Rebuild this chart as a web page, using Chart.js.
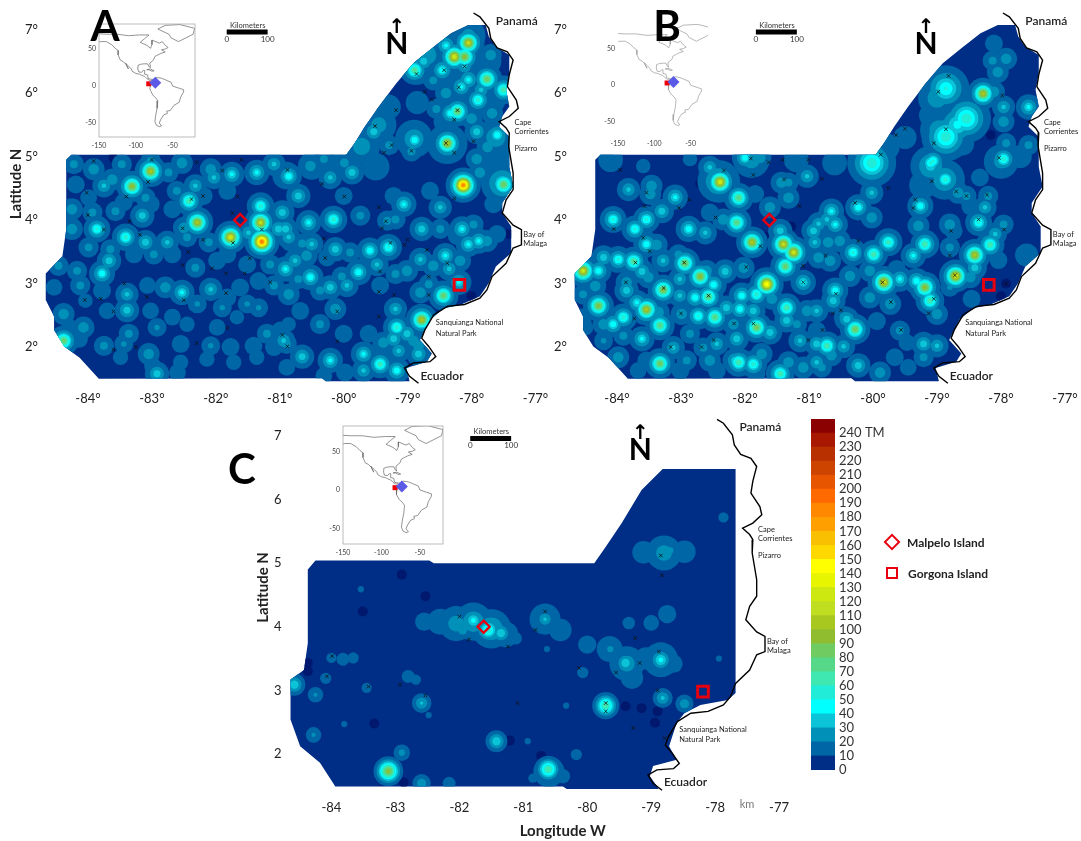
<!DOCTYPE html>
<html>
<head>
<meta charset="utf-8">
<title>Catch maps</title>
<script src="https://cdn.jsdelivr.net/npm/chart.js@4"></script>
<style>
html, body { margin: 0; padding: 0; background: #fff; width: 1081px; height: 841px; overflow: hidden; }
canvas { position: absolute; filter: blur(0.55px); }
.letter { position: absolute; font: bold 42px Lato, sans-serif; color: #000; transform: translate(-50%, -50%); filter: blur(0.5px); }
.legendText { position: absolute; font: bold 12px Lato, sans-serif; color: #222; transform: translateY(-50%); filter: blur(0.4px); }
.diamond { position: absolute; width: 8px; height: 8px; border: 2px solid #e8000f; transform: translate(-50%, -50%) rotate(45deg); }
.square { position: absolute; width: 8px; height: 8px; border: 2px solid #e8000f; transform: translate(-50%, -50%); }
</style>
</head>
<body>
<canvas id="mapA"></canvas>
<canvas id="mapB"></canvas>
<canvas id="mapC"></canvas>
<canvas id="insetA"></canvas>
<canvas id="insetB"></canvas>
<canvas id="insetC"></canvas>
<canvas id="colorbar"></canvas>
<div class="letter" style="left:105px;top:25px">A</div>
<div class="letter" style="left:667px;top:25px">B</div>
<div class="letter" style="left:242px;top:468px">C</div>
<div class="diamond" style="left:892px;top:542px"></div>
<div class="legendText" style="left:907px;top:542px">Malpelo Island</div>
<div class="square" style="left:892px;top:573px"></div>
<div class="legendText" style="left:908px;top:573px">Gorgona Island</div>
<script>
const lonTicks = [-84, -83, -82, -81, -80, -79, -78, -77];
const latTicks = [2, 3, 4, 5, 6, 7];
const insetLonTicks = [-150, -100, -50];
const insetLatTicks = [-50, 0, 50];
const colorbarTicks = [0, 10, 20, 30, 40, 50, 60, 70, 80, 90, 100, 110, 120, 130, 140, 150, 160, 170, 180, 190, 200, 210, 220, 230, 240];
const colorbarSteps = [10, 10, 10, 10, 10, 10, 10, 10, 10, 10, 10, 10, 10, 10, 10, 10, 10, 10, 10, 10, 10, 10, 10, 10, 10];
const contourLevels = [10, 20, 30, 40, 50, 60, 70, 80, 90, 100, 110, 120, 130, 140, 150, 160, 170, 180, 190, 200, 210, 220, 230, 240];
const levelColors = ['#0066a5', '#0090b8', '#0cc4d8', '#00ffff', '#20ecd8', '#3fe8b0', '#55d888', '#70cc60', '#90bc30', '#a8c820', '#bfde20', '#cce810', '#e8f500', '#ffff00', '#ffd800', '#f8c000', '#ff9f00', '#ff8800', '#ff6a00', '#e85500', '#cc4400', '#b83000', '#a81800', '#8b0000'];
const baseColor = '#002d85';
const darkColor = '#00186e';

const outlineAB = [[-84.26,5.03],[-79.96,5.03],[-79.83,5.21],[-79.67,5.47],[-79.45,5.79],[-79.18,6.15],[-78.91,6.47],[-78.59,6.73],[-78.32,6.94],[-78.05,7.07],[-77.78,7.07],[-77.73,6.89],[-77.62,6.73],[-77.41,6.6],[-77.41,6.31],[-77.46,6.05],[-77.41,5.79],[-77.52,5.63],[-77.57,5.47],[-77.41,5.31],[-77.41,4.84],[-77.35,4.53],[-77.52,4.27],[-77.52,4.11],[-77.38,3.9],[-77.38,3.48],[-77.62,3.27],[-77.73,3.01],[-77.87,2.8],[-78.16,2.67],[-78.43,2.61],[-78.65,2.43],[-78.81,2.11],[-78.62,1.9],[-78.7,1.77],[-79.02,1.67],[-78.97,1.46],[-80.28,1.46],[-80.34,1.51],[-83.83,1.5],[-84.13,1.83],[-84.37,2.01],[-84.53,2.27],[-84.53,2.48],[-84.66,2.74],[-84.66,3.16],[-84.4,3.43],[-84.34,3.85],[-84.34,4.95],[-84.26,5.03]];
const outlineC = [[-84.37,4.9],[-84.25,5.04],[-82.47,5.04],[-82.4,5],[-79.89,5],[-79.71,5.26],[-79.46,5.63],[-79.15,6.15],[-78.82,6.48],[-77.68,6.48],[-77.68,2.96],[-77.8,2.85],[-78.23,2.77],[-78.48,2.64],[-78.6,2.49],[-78.72,2.12],[-78.6,1.91],[-78.97,1.81],[-79.02,1.65],[-78.88,1.45],[-80.32,1.45],[-80.38,1.49],[-83.94,1.49],[-84.18,1.86],[-84.49,2.12],[-84.64,2.54],[-84.64,3.17],[-84.43,3.32],[-84.37,3.74],[-84.37,4.9]];
const coastline = [[-77.97,7.26],[-77.87,7.2],[-77.73,7.02],[-77.7,6.86],[-77.6,6.71],[-77.44,6.65],[-77.35,6.52],[-77.41,6.29],[-77.44,6.1],[-77.3,5.89],[-77.27,5.76],[-77.41,5.63],[-77.57,5.55],[-77.46,5.45],[-77.41,5.37],[-77.42,5.16],[-77.35,4.74],[-77.35,4.48],[-77.46,4.32],[-77.52,4.11],[-77.35,3.92],[-77.22,3.85],[-77.22,3.61],[-77.35,3.56],[-77.46,3.32],[-77.68,3.11],[-77.76,2.9],[-77.87,2.77],[-78.11,2.67],[-78.38,2.64],[-78.59,2.51],[-78.73,2.27],[-78.78,2.14],[-78.67,2.01],[-78.56,1.85],[-78.65,1.77],[-78.91,1.75],[-79.05,1.67],[-78.97,1.54],[-78.83,1.43]];

// [lon, lat, catch in TM]
const spotsA = [[-78.05,6.79,120],[-78.27,6.57,130],[-78.11,6.57,100],[-78.46,6.36,50],[-78.11,6.42,35],[-77.76,6.22,90],[-78.05,6.21,45],[-78.16,6.1,45],[-77.9,5.89,60],[-77.5,6.05,70],[-78.89,6.36,75],[-78.75,6.5,40],[-78.4,6.75,45],[-78.22,5.71,85],[-78.33,5.68,50],[-79.53,5.39,40],[-78.89,5.26,50],[-78.38,5.21,110],[-77.92,5.39,40],[-77.6,5.34,50],[-77.68,5.68,30],[-79.29,5.18,25],[-78.94,5.08,25],[-77.85,6.05,35],[-78.4,6,30],[-78.6,6.2,25],[-77.7,6.6,30],[-78.55,5.75,25],[-78,5.6,30],[-77.75,5.15,30],
[-84.22,4.88,25],[-83.91,4.8,30],[-83.47,4.88,25],[-83.02,4.93,25],[-82.53,4.9,30],[-82.08,4.8,30],[-81.75,4.72,45],[-81.36,4.75,45],[-81.09,4.88,35],[-84.19,4.56,20],[-83.75,4.54,35],[-83.62,4.64,30],[-83.31,4.53,100],[-83.02,4.77,110],[-82.74,4.75,25],[-82.32,4.54,35],[-82.61,4.46,25],[-83.1,4.35,25],[-83.99,4.35,18],[-83.44,4.28,20],[-83.02,4.25,20],[-82.68,4.17,20],[-84.25,4.17,30],[-83.93,4.12,25],[-83.57,4.14,25],[-83.15,4.07,40],[-82.42,4.3,70],[-82.19,4.38,20],[-81.82,4.46,20],[-82.03,4.67,35],[-81.3,4.22,60],[-80.96,4.12,40],[-81.3,3.96,120],[-81.02,3.86,40],[-80.86,3.73,35],[-81.49,3.8,35],[-82.29,3.96,110],[-82.5,3.88,30],[-81.77,3.73,130],[-81.28,3.66,195],[-83.86,3.86,55],[-83.41,3.73,60],[-83.1,3.65,40],[-82.76,3.65,35],[-82.45,3.73,25],[-82.11,3.65,25],[-84.25,3.86,30],[-83.65,3.54,25],[-83.99,3.57,25],[-83.28,3.46,20],[-83.67,3.36,40],[-82.97,3.46,25],[-82.68,3.46,20],[-82.32,3.25,25],[-81.98,3.36,20],[-81.82,3.46,20],[-81.51,3.3,20],[-81.15,3.3,25],[-80.91,3.23,35],[-83.78,3.16,50],[-84.17,3.2,25],[-84.46,3.28,25],[-84.53,2.94,18],[-84.12,2.97,25],[-83.78,2.89,20],[-83.39,2.83,35],[-82.79,2.94,30],[-83.07,2.97,18],[-82.53,2.86,45],[-82.08,2.91,35],[-81.82,2.78,20],[-81.62,2.94,20],[-81.33,3.04,20],[-81.09,2.97,25],[-80.89,2.83,20],[-84.38,2.52,30],[-84.04,2.73,15],[-83.7,2.57,18],[-83.39,2.58,40],[-83.02,2.57,18],[-82.68,2.47,18],[-82.29,2.68,22],[-81.9,2.62,22],[-81.51,2.68,22],[-81.33,2.62,22],[-84.07,2.31,30],[-84.3,2.34,15],[-83.36,2.21,25],[-82.92,2.31,22],[-82.45,2.36,16],[-81.98,2.31,18],[-81.67,2.47,15],[-81.2,2.21,25],[-80.99,2.26,20],[-84.38,2.1,85],[-84.14,2.13,20],[-83.75,2.02,25],[-83.44,2.05,22],[-83.05,1.89,30],[-82.55,2.05,20],[-82.08,2.02,22],[-81.77,2,20],[-81.41,2.02,20],[-80.94,2.1,35],[-81.09,2,20],[-82.92,1.58,40],[-83.49,1.84,16],[-82.99,1.71,18],[-82.6,1.6,18],[-82.14,1.81,16],[-81.72,1.76,16],[-81.36,1.84,16],[-82.55,1.76,16],
[-80.86,4.69,50],[-80.52,4.85,30],[-80.21,4.67,35],[-79.87,4.75,40],[-80.31,4.96,25],[-80.71,4.38,40],[-80.97,4.12,25],[-80.16,4.01,60],[-80.55,3.96,45],[-80.91,3.86,40],[-79.74,4.07,25],[-80,4.38,20],[-79.06,4.25,45],[-79.32,3.99,25],[-79.19,4.01,25],[-78.78,3.86,40],[-79.22,4.38,20],[-78.65,4.46,20],[-78.49,4.2,35],[-78.13,4.55,190],[-77.5,4.56,90],[-77.87,4.75,30],[-77.92,4.96,30],[-77.66,4.25,20],[-78.15,3.86,45],[-78.49,3.86,25],[-77.89,3.67,45],[-78.05,3.62,45],[-77.76,3.67,30],[-77.97,3.93,25],[-77.6,3.78,20],[-78.23,3.75,20],[-78.41,3.44,45],[-78.6,3.28,30],[-78.18,3.36,30],[-78.35,3.23,35],[-78.2,3.02,45],[-78.67,2.99,25],[-78.44,2.81,85],[-78.8,2.86,30],[-79.01,3.2,30],[-78.8,3.38,35],[-79.3,3.57,55],[-79.59,3.52,50],[-79.9,3.49,25],[-80.13,3.54,40],[-80.5,3.62,35],[-80.65,3.63,25],[-80.84,3.65,20],[-80.58,3.44,30],[-80.76,3.36,35],[-80.91,3.23,45],[-80.26,3.41,20],[-79.77,3.18,50],[-79.48,3.3,35],[-80.03,3.11,25],[-80.52,3.1,50],[-80.71,3.07,25],[-79.95,2.97,35],[-80.21,2.94,40],[-80.86,2.83,30],[-80.37,2.89,25],[-79.43,2.97,20],[-79.19,3.15,25],[-79.19,2.6,35],[-79.17,2.31,60],[-78.78,2.43,110],[-79.01,2.21,40],[-78.91,2.1,30],[-79.22,2.13,40],[-80.13,2.6,30],[-80.37,2.36,25],[-80.68,2.57,20],[-80.86,2.36,15],[-80.89,2.05,25],[-80,2.21,20],[-79.61,2.21,20],[-79.38,2.07,30],[-79.14,1.94,35],[-79.69,1.89,45],[-79.43,1.73,65],[-79.17,1.63,50],[-80.21,1.79,45],[-80.65,1.85,40],[-79.69,1.63,35],[-79.98,1.6,20],[-80.31,1.55,18],[-78.83,1.89,40],[-78.83,2.02,30],[-80.89,1.68,18]];
const broadA = [[-78.9,5.28,30],[-78.38,5.2,35],[-77.52,4.58,40],[-77.62,5.3,30],[-79.72,5.16,28],[-79.45,5.5,26],[-79.99,4.9,22],[-79.5,4.84,18],[-78.38,6.15,15],[-77.75,6.5,18],[-77.7,5.9,20],[-78.85,5.85,15],[-78.3,6.5,22],[-78.7,6.6,30],[-78.85,6.4,25],[-78.05,6.9,25],[-77.6,4.95,18],[-79.3,5.78,16],[-78.4,5.55,16],[-80.5,4.85,18],[-80.9,4.7,18]];
const darkA = [[-78.22,5.87],[-78.39,5.5],[-77.42,3.78],[-78,2.8],[-83.6,4.98],[-84.55,2.9]];
const stationsA = [[-78.86,6.3],[-78.73,6.02],[-78.62,5.9],[-78.43,6.36],[-78.11,6.42],[-78.2,6.09],[-78.22,5.73],[-78.27,5.58],[-79.18,5.73],[-79.51,5.48],[-79.25,5.18],[-79.37,5.06],[-78.94,5.09],[-78.4,5.21],[-78.27,5.06],[-77.97,5.24],[-78.27,4.34],[-79.99,4.37],[-80.34,4.57],[-80.88,4.79],[-79.45,4.2],[-79.34,3.98],[-79.4,3.87],[-79.27,3.64],[-79,3.69],[-79.05,3.61],[-78.7,3.53],[-78.38,3.32],[-78.67,3.11],[-78.67,2.82],[-79.45,2.87],[-79.43,3.19],[-79.21,2.82],[-79.45,2.48],[-80.1,2.56],[-80.1,2.09],[-80.96,2.19],[-80.88,2.01],[-81.82,2.3],[-82.3,2.06],[-83.6,1.96],[-83.25,2],[-83.6,2.56],[-84.05,2.74],[-83.08,2.79],[-83.8,2.76],[-83.43,3],[-82.5,2.74],[-81.84,2.85],[-81.15,3.02],[-81.55,3.16],[-81.84,3.16],[-82.06,3.24],[-81.47,3.4],[-82.52,3.29],[-82.43,3.5],[-81.73,3.64],[-82.2,3.69],[-83.19,3.77],[-83.35,3.98],[-83.75,3.85],[-84,4.08],[-82.52,3.87],[-82.38,4.33],[-82.2,4.38],[-81.66,4.37],[-81.74,4.11],[-81.6,4.95],[-82.3,4.91],[-83,4.95],[-83.91,4.93],[-84.02,4.43],[-83.4,4.37],[-83.06,4.6],[-81.9,4.78],[-81.28,3.85],[-80.31,3.71],[-80.29,3.4]];

const spotsB = [[-78.28,5.99,110],[-78.11,6.02,30],[-77.57,5.78,45],[-77.92,6.54,30],[-78.13,6.51,25],[-78.11,6.78,20],[-78.05,6.33,30],[-77.96,5.78,35],[-77.96,5.55,30],[-77.57,5.18,25],[-77.92,5.21,25],[-79.1,4.9,55],
[-84.16,4.98,15],[-83.59,4.85,15],[-82.86,4.96,15],[-82.55,4.83,35],[-82,4.98,50],[-81.76,4.98,30],[-82.39,4.6,130],[-83.82,4.48,35],[-83.46,4.54,30],[-83.48,4.41,30],[-83.09,4.36,45],[-82.1,4.35,80],[-81.32,4.35,30],[-81.43,4.59,30],[-81.03,4.69,35],[-81.32,4.59,25],[-81.61,4.2,30],[-81.84,4.41,20],[-84.06,4.01,55],[-83.72,3.86,55],[-83.54,4.01,55],[-83.3,4.14,40],[-82.88,3.86,50],[-82.62,3.8,35],[-82.34,4.01,30],[-82.13,3.96,80],[-82.55,4.12,20],[-81.89,3.65,110],[-81.45,3.83,40],[-81.4,3.62,120],[-81.24,3.49,125],[-80.85,3.94,35],[-80.85,3.41,30],[-81.37,3.27,85],[-81.66,2.99,150],[-82.94,3.32,90],[-82.7,3.11,100],[-82.49,2.98,50],[-83.28,2.9,95],[-83.74,3.35,75],[-83.98,3.38,55],[-84.21,3.41,40],[-84.53,3.2,125],[-84.29,3.2,50],[-83.54,3.62,50],[-83.38,3.61,30],[-83.28,3.36,35],[-83.04,3.46,25],[-82.6,3.2,30],[-82.31,3.19,40],[-82.02,3.25,30],[-83.61,3.19,40],[-83.85,3.02,30],[-83.85,2.89,40],[-83.51,3.1,30],[-83.02,3.07,35],[-83.02,2.81,35],[-82.78,2.78,50],[-82.57,2.79,80],[-82.05,2.81,50],[-81.82,2.83,60],[-81.58,2.76,30],[-81.35,2.62,70],[-81.09,3.02,45],[-84.53,2.83,25],[-84.34,2.96,30],[-84.29,2.65,95],[-84.06,2.36,50],[-83.9,2.47,60],[-83.54,2.59,110],[-83.69,2.7,45],[-83.33,2.34,80],[-82.99,2.52,30],[-82.73,2.49,55],[-82.47,2.47,80],[-82.18,2.36,30],[-81.82,2.31,90],[-81.61,2.23,40],[-81.35,2.42,40],[-82.29,2.62,40],[-82.08,2.6,50],[-81.87,2.57,40],[-81.03,2.57,30],[-84.53,2.47,20],[-84.21,2.36,30],[-83.61,2.13,45],[-83.35,2.55,30],[-83.9,2.18,25],[-83.12,1.99,35],[-82.65,1.99,25],[-82.13,2.13,40],[-82.44,2.05,35],[-82.16,1.79,40],[-82.1,1.76,70],[-81.87,1.73,60],[-81.74,1.89,30],[-81.32,1.76,30],[-81.45,1.58,70],[-81.09,1.68,30],[-80.88,1.76,35],[-83.33,1.74,90],[-83.01,1.63,20],[-83.98,1.84,30],[-82.91,1.79,25],[-82.55,1.79,30],[-82.86,2.21,25],[-84.21,2.1,22],[-84.5,2.31,18],[-83.54,1.79,20],[-83.67,1.63,18],[-82.44,1.63,20],[-81.82,1.58,20],[-80.88,2.26,20],[-81.14,2.1,35],[-81.19,2.36,25],[-80.88,2.05,40],
[-79.06,4.93,55],[-78.87,4.64,60],[-77.96,4.96,60],[-78.33,4.67,20],[-78.67,4.43,30],[-78.54,4.38,25],[-78.2,4.38,25],[-78.48,4.22,20],[-78.25,4.2,35],[-78.35,3.96,55],[-77.96,3.93,25],[-78.09,3.78,35],[-78.17,3.61,70],[-78.41,3.45,110],[-78.41,3.25,40],[-78.48,3.1,30],[-78.71,3.12,130],[-78.04,3.37,20],[-78.74,3.83,20],[-78.8,3.93,30],[-79.26,4.22,50],[-79.19,3.62,70],[-79.37,3.44,45],[-78.8,3.57,25],[-79.29,3.91,30],[-79.76,3.65,65],[-79.58,3.07,45],[-79.83,3.02,125],[-79.99,3.46,70],[-80.31,3.49,55],[-80.65,4.14,45],[-80.72,4.01,35],[-80.59,3.93,45],[-80.91,3.65,35],[-80.7,3.65,30],[-80.67,3.36,30],[-80.23,4.2,50],[-80.02,4.43,35],[-80.02,4.04,30],[-79.19,2.94,100],[-79.32,3.04,50],[-79.11,2.73,70],[-79,2.52,30],[-79,2.02,35],[-79.21,2.05,40],[-79.21,1.84,25],[-80.05,2.78,30],[-80.28,2.28,90],[-80.41,2.44,40],[-80.72,2.02,70],[-80.46,2.01,35],[-80.23,1.71,40],[-79.89,1.6,30],[-80.65,1.87,30],[-80.59,2.89,50],[-80.62,2.73,40],[-80.88,2.57,35],[-80.44,2.47,30],[-79.73,2.68,30],[-79.94,2.41,20],[-79.58,2.26,25],[-80.8,1.68,25],[-79.66,1.84,20],[-79.47,2.07,18],[-80.36,3.12,30],[-80.05,3.2,30],[-79.63,3.23,20],[-80.52,3.67,30],[-80.93,3.83,40],[-79.45,1.68,18],[-78.8,2.94,22],[-78.46,2.76,20]];
const broadB = [[-78.86,6.07,52],[-79,5.92,30],[-78.54,5.6,60],[-78.68,5.5,45],[-78.86,5.31,60],[-78.97,5.42,30],[-79.1,4.85,35],[-78.88,4.64,35],[-79.22,4.55,18],[-78,4.92,25],[-80.02,4.9,60],[-79.8,5.15,18],[-82.41,4.61,40],[-81.9,4.95,28],[-81.2,4.95,16],[-80.6,4.9,16],[-84.1,4.95,16],[-79.5,5.3,15],[-79.1,5.65,15],[-77.7,5,15],[-78.6,5.2,15],[-77.6,3.45,15]];
const darkB = [[-78.38,6.05],[-78.05,5.62],[-82.7,4.58],[-81.28,3.9],[-81.68,3.74],[-78.16,5.34],[-77.92,3],[-82.78,3.18],[-81.02,3.76],[-78,2.8]];
const stationsB = [[-78.82,6.27],[-78.98,6.02],[-77.98,5.96],[-79.5,5.44],[-79.64,5.34],[-78.86,5.43],[-79.05,5.21],[-78.03,4.98],[-79.08,4.61],[-79.88,5.03],[-78.7,4.45],[-78.54,4.38],[-78.22,4.4],[-79.34,4.32],[-79.37,4.19],[-79.76,4.5],[-80.28,4.27],[-80.8,4.65],[-81.01,4.95],[-81.41,4.95],[-81.63,4.91],[-81.91,4.97],[-81.87,4.71],[-82.33,4.78],[-81.39,4.64],[-81.15,4.22],[-83.95,4.79],[-83.54,4.43],[-83.57,4.22],[-83.03,4.19],[-82.87,4.32],[-82.46,4.04],[-84.05,3.86],[-83.59,3.72],[-83.49,3.51],[-83.71,3.33],[-82.95,3.33],[-83.86,3.02],[-83.27,2.93],[-82.57,2.81],[-81.98,3.26],[-81.76,3.59],[-81.09,3.28],[-81.09,3.02],[-80.74,3.44],[-80.23,3.67],[-80.58,2.84],[-80.63,2.53],[-80.5,2.58],[-81.87,2.37],[-82.17,2.37],[-83,2.53],[-83.73,2.45],[-83.16,2],[-82.68,2],[-82.49,2.11],[-81.01,2.11],[-80.79,2.27],[-79.56,2.27],[-79.72,2.71],[-79.85,3.02],[-79.05,2.76],[-79.13,2.53],[-78.72,3.13],[-78.8,3.44],[-78.78,3.83],[-78.35,4.01],[-77.95,3.85],[-77.92,3]];

const spotsC = [[-81.78,4.1,45],[-81.55,3.95,60],[-81.35,3.9,40],[-81.95,3.95,28],[-80.66,4.12,32],[-80.63,3.65,12],[-79.64,3.65,24],[-79.4,3.43,40],[-78.85,3.48,45],[-80.07,3.28,16],[-77.94,3.5,12],[-77.87,5.72,15],[-78.82,2.88,33],[-78.48,2.79,28],[-79.71,2.76,70],[-80.33,2.76,12],[-82.59,2.8,32],[-82.48,2.61,12],[-82.8,3.22,18],[-82.68,3.17,15],[-83.82,3.49,18],[-84,3.51,15],[-83.66,3.51,16],[-84.09,3.19,16],[-84.58,3.09,40],[-84.25,2.93,22],[-83.45,3.04,15],[-83.54,4.59,12],[-84.28,2.3,22],[-81.42,2.2,40],[-82.9,2.02,24],[-83.11,1.73,95],[-82.59,1.54,28],[-82.16,1.54,18],[-80.61,1.76,70],[-80.38,1.65,20],[-80.85,1.62,14],[-80.17,1.99,16],[-80.93,2.2,12],[-83.8,2.47,12],[-78.85,5.2,25],[-78.7,5.2,24]];
const broadC = [[-82.55,4.08,14],[-82.3,4.08,18],[-82.05,4.05,26],[-81.78,4.08,30],[-81.5,3.97,32],[-81.28,3.88,18],[-81.12,3.82,12],[-80.66,4.12,22],[-80.42,3.95,16],[-80,3.72,14],[-79.65,3.65,18],[-79.38,3.42,26],[-79.3,3.2,16],[-78.85,3.48,26],[-78.65,3.42,14],[-79.08,3.5,16],[-79.35,4.06,12],[-79,4.06,13],[-78.75,4.2,14],[-79.12,5.17,16],[-78.8,5.16,26],[-78.48,5.18,16],[-80.6,1.72,22]];
const darkC = [[-83.51,4.24],[-82.53,4.48],[-82.9,4.82],[-84.37,3.43],[-84.37,3.3],[-79.15,2.72],[-78.9,2.67],[-79.4,2.75],[-80.72,1.97],[-81.21,2.21],[-83.33,2.48],[-82.87,1.55],[-78.94,2.49]];
const stationsC = [[-78.85,5.12],[-78.83,4.81],[-80.66,4.24],[-80.81,3.95],[-81.85,3.8],[-81.24,3.69],[-82,4.16],[-79.25,3.82],[-78.88,3.61],[-79.55,3.28],[-79.18,3.43],[-80.13,3.35],[-79.71,2.8],[-79.71,2.67],[-78.9,3],[-81.09,2.8],[-82.53,2.92],[-82.93,3.09],[-83.42,3.06],[-84.07,3.22],[-83.99,3.54],[-79.28,2.41],[-78.79,2.25]];

const malpelo = [-81.62, 4.0];
const gorgona = [-78.19, 2.98];
const scaleBar = [[-81.83, 6.96], [-81.19, 6.96]];

// text, lon, lat
const bigPlaces = [['Panamá', -77.62, 7.14], ['Ecuador', -78.8, 1.55]];
const smallPlaces = [['Cape', -77.33, 5.53], ['Corrientes', -77.33, 5.39], ['Pizarro', -77.33, 5.12], ['Bay of', -77.19, 3.77], ['Malaga', -77.19, 3.63], ['Sanquianga National', -78.56, 2.38], ['Natural Park', -78.56, 2.22]];

const americas = [[-168,66],[-162,60],[-155,58],[-148,60],[-140,60],[-133,56],[-128,51],[-124,48],[-124,42],[-121,35],[-117,33],[-113,29],[-110,23],[-112,27],[-114,31],[-110,27],[-106,23],[-105,20],[-100,17],[-95,16],[-92,14.5],[-88,13],[-85,10],[-82,8],[-80,7.5],[-78,8],[-77,6.5],[-77.5,4],[-78.8,2],[-80,0],[-81,-3],[-80,-6],[-77,-12],[-72,-17],[-70,-20],[-71,-30],[-73,-40],[-74,-48],[-72,-53],[-68,-55],[-65,-54],[-68,-50],[-66,-45],[-62,-39],[-57,-37],[-58,-34],[-53,-33],[-48,-26],[-41,-22],[-39,-15],[-35,-8],[-35,-5],[-41,-3],[-50,0],[-52,5],[-60,8.5],[-65,10.5],[-72,11.5],[-76,9],[-78,9],[-83,10],[-84,15],[-88,16],[-88,21],[-90,21],[-92,18.5],[-96,19],[-97.5,24],[-97,28],[-93,29.5],[-89,30],[-84,30],[-82,26],[-80,25],[-81,31],[-76,35],[-74,40],[-70,42],[-66,44],[-60,46],[-65,49],[-60,50],[-56,52],[-60,55],[-64,60],[-68,58],[-78,62],[-78,56],[-80,51],[-85,55],[-94,59],[-88,64],[-82,69],[-95,69],[-110,68],[-125,70],[-140,70],[-156,71],[-166,68],[-168,66]];
const greenland = [[-60,82],[-40,83],[-20,78],[-22,70],[-42,60],[-52,65],[-55,70],[-70,77],[-60,82]];
const cuba = [[-85,22],[-80,23],[-75,20.5],[-78,20],[-82,22],[-85,22]];
const colombiaMark = [-73.5, 4.5];
const studyAreaMark = [-82.4, 3];

const tickFont = { family: 'Lato, sans-serif', size: 13 };
const toXY = list => list.map(p => ({ x: p[0], y: p[1] }));

// contour radius of a spot at a level, joinUp widens the two lowest levels so dense spots merge
function ringRadius(value, level, spread, joinUp) {
    const r = spread * Math.pow(Math.log(value / level), 0.62);
    if (joinUp && level === 10) return r + 3;
    if (joinUp && level === 20) return r + 1;
    return r;
}

function levelPoints(list, level, spread, joinUp) {
    return list.filter(s => s[2] > level).map(s => ({ x: s[0], y: s[1], r: ringRadius(s[2], level, spread, joinUp) }));
}

function clearAxisPadding(a) {
    a.paddingLeft = 0;
    a.paddingRight = 0;
    a.paddingTop = 0;
    a.paddingBottom = 0;
}

function makeMap(id, cfg) {
    const xMin = cfg.lonStart;
    const xMax = xMin + (cfg.right - cfg.left) / 64;
    const yMax = cfg.latTop;
    const yMin = yMax - (cfg.bottom - cfg.top) / 63.6;
    const canvas = document.getElementById(id);
    canvas.width = cfg.right - cfg.left + cfg.axisW + 6;
    canvas.height = cfg.bottom - cfg.top + 4 + cfg.axisH;
    canvas.style.left = (cfg.left - cfg.axisW) + 'px';
    canvas.style.top = (cfg.top - 4) + 'px';

    const datasets = [
        { type: 'line', data: toXY(cfg.outline), backgroundColor: baseColor, borderWidth: 0, pointRadius: 0, fill: 'shape', order: 100 },
        { type: 'bubble', data: cfg.dark.map(p => ({ x: p[0], y: p[1], r: 5 })), backgroundColor: darkColor, borderWidth: 0, inRegion: true, order: 99 },
        { type: 'scatter', data: toXY(cfg.stations), pointStyle: 'crossRot', pointRadius: 2.5, borderColor: '#111', borderWidth: 0.8, order: 10 },
        { type: 'line', data: toXY(coastline), borderColor: '#000', borderWidth: 1.4, pointRadius: 0, fill: false, order: 5 },
        { type: 'line', data: toXY(scaleBar), borderColor: '#000', borderWidth: 5, pointRadius: 0, fill: false, order: 4 },
        { type: 'scatter', data: toXY([malpelo]), pointStyle: 'rectRot', pointRadius: 6, backgroundColor: 'rgba(0,0,0,0)', borderColor: '#e8000f', borderWidth: 2.4, order: 2 },
        { type: 'scatter', data: toXY([gorgona]), pointStyle: 'rect', pointRadius: 7.5, backgroundColor: 'rgba(0,0,0,0)', borderColor: '#e8000f', borderWidth: 3, order: 1 }
    ];
    contourLevels.forEach((level, i) => {
        const pts = levelPoints(cfg.spots, level, cfg.spread, cfg.joinUp).concat(levelPoints(cfg.broad, level, cfg.spread * 2, cfg.joinUp));
        if (pts.length) {
            datasets.push({ type: 'bubble', data: pts, backgroundColor: levelColors[i], borderWidth: 0, inRegion: true, order: 90 - i });
        }
    });

    const regionClip = {
        id: 'regionClip',
        beforeDatasetDraw(chart, args) {
            if (!chart.data.datasets[args.index].inRegion) return;
            const ctx = chart.ctx;
            ctx.save();
            ctx.beginPath();
            cfg.outline.forEach((p, i) => {
                const px = chart.scales.x.getPixelForValue(p[0]);
                const py = chart.scales.y.getPixelForValue(p[1]);
                if (i === 0) ctx.moveTo(px, py); else ctx.lineTo(px, py);
            });
            ctx.closePath();
            ctx.clip();
        },
        afterDatasetDraw(chart, args) {
            if (chart.data.datasets[args.index].inRegion) chart.ctx.restore();
        }
    };

    const mapText = {
        id: 'mapText',
        afterDatasetsDraw(chart) {
            const ctx = chart.ctx;
            const put = (text, lon, lat, font, align, color) => {
                ctx.font = font;
                ctx.textAlign = align;
                ctx.textBaseline = 'middle';
                ctx.fillStyle = color;
                ctx.fillText(text, chart.scales.x.getPixelForValue(lon), chart.scales.y.getPixelForValue(lat));
            };
            ctx.save();
            bigPlaces.forEach(p => put(p[0], p[1], p[2], '600 12px Lato, sans-serif', 'left', '#222'));
            smallPlaces.forEach(p => put(p[0], p[1], p[2], '7.5px Lato, sans-serif', 'left', '#222'));
            put('Kilometers', -81.5, 7.07, '7.5px Lato, sans-serif', 'center', '#333');
            put('0', -81.83, 6.85, '8px Lato, sans-serif', 'center', '#333');
            put('100', -81.19, 6.85, '8px Lato, sans-serif', 'center', '#333');
            put('N', -79.17, 6.77, 'bold 30px Lato, sans-serif', 'center', '#000');
            put('↑', -79.17, 7.03, 'bold 20px "DejaVu Sans", sans-serif', 'center', '#000');
            if (cfg.showKm) put('km', -77.5, 1.2, '11px Lato, sans-serif', 'center', '#777');
            ctx.restore();
        }
    };

    return new Chart(canvas, {
        type: 'scatter',
        data: { datasets },
        options: {
            responsive: false,
            animation: false,
            events: [],
            layout: { autoPadding: false, padding: { top: 4, right: 6 } },
            plugins: { legend: { display: false }, tooltip: { enabled: false } },
            scales: {
                x: {
                    type: 'linear', min: xMin, max: xMax, bounds: 'data',
                    grid: { display: false, drawTicks: false }, border: { display: false },
                    afterBuildTicks: a => { a.ticks = lonTicks.map(v => ({ value: v })); },
                    afterFit: a => { a.height = cfg.axisH; clearAxisPadding(a); },
                    ticks: { autoSkip: false, maxRotation: 0, padding: cfg.xPad, color: '#222', font: tickFont, callback: v => v + cfg.degree },
                    title: { display: cfg.xTitle, text: 'Longitude W', color: '#222', font: { family: 'Lato, sans-serif', size: 15, weight: 'bold' }, padding: 0 }
                },
                y: {
                    type: 'linear', min: yMin, max: yMax, bounds: 'data',
                    grid: { display: false, drawTicks: false }, border: { display: false },
                    afterBuildTicks: a => { a.ticks = latTicks.map(v => ({ value: v })); },
                    afterFit: a => { a.width = cfg.axisW; clearAxisPadding(a); },
                    ticks: { autoSkip: false, padding: 2, color: '#222', font: tickFont, callback: v => v + cfg.degree },
                    title: { display: cfg.yTitle, text: 'Latitude N', color: '#222', font: { family: 'Lato, sans-serif', size: 15, weight: 'bold' }, padding: { top: 0, bottom: 0 } }
                }
            }
        },
        plugins: [regionClip, mapText]
    });
}

function makeInset(id, cfg) {
    const canvas = document.getElementById(id);
    canvas.width = cfg.right - cfg.left + 18 + 2;
    canvas.height = cfg.bottom - cfg.top + 2 + 16;
    canvas.style.left = (cfg.left - 18) + 'px';
    canvas.style.top = (cfg.top - 2) + 'px';
    const line = list => ({ type: 'line', data: toXY(list), borderColor: cfg.coastColor, borderWidth: 0.7, pointRadius: 0, fill: false, order: 5 });
    const frame = {
        id: 'frame',
        afterDraw(chart) {
            if (!cfg.frame) return;
            const a = chart.chartArea;
            chart.ctx.save();
            chart.ctx.strokeStyle = '#aaa';
            chart.ctx.lineWidth = 0.8;
            chart.ctx.strokeRect(a.left, a.top, a.right - a.left, a.bottom - a.top);
            chart.ctx.restore();
        }
    };
    return new Chart(canvas, {
        type: 'scatter',
        data: {
            datasets: [
                line(americas), line(greenland), line(cuba),
                { type: 'scatter', data: toXY([studyAreaMark]), pointStyle: 'rect', pointRadius: 3.5, backgroundColor: '#ee0000', borderWidth: 0, order: 2 },
                { type: 'scatter', data: toXY([colombiaMark]), pointStyle: 'rectRot', pointRadius: 6, backgroundColor: '#5a5ae6', borderWidth: 0, order: 1 }
            ]
        },
        options: {
            responsive: false,
            animation: false,
            events: [],
            layout: { autoPadding: false, padding: { top: 2, right: 2 } },
            plugins: { legend: { display: false }, tooltip: { enabled: false } },
            scales: {
                x: {
                    type: 'linear', min: cfg.lon[0], max: cfg.lon[1], bounds: 'data',
                    grid: { display: false, drawTicks: false }, border: { display: false },
                    afterBuildTicks: a => { a.ticks = insetLonTicks.map(v => ({ value: v })); },
                    afterFit: a => { a.height = 16; clearAxisPadding(a); },
                    ticks: { autoSkip: false, maxRotation: 0, padding: 5, color: '#444', font: { family: 'Lato, sans-serif', size: 7 } }
                },
                y: {
                    type: 'linear', min: cfg.lat[0], max: cfg.lat[1], bounds: 'data',
                    grid: { display: false, drawTicks: false }, border: { display: false },
                    afterBuildTicks: a => { a.ticks = insetLatTicks.map(v => ({ value: v })); },
                    afterFit: a => { a.width = 18; clearAxisPadding(a); },
                    ticks: { autoSkip: false, padding: 3, color: '#444', font: { family: 'Lato, sans-serif', size: 7 } }
                }
            }
        },
        plugins: [frame]
    });
}

function makeColorbar() {
    const canvas = document.getElementById('colorbar');
    canvas.width = 80;
    canvas.height = 364;
    canvas.style.left = '811px';
    canvas.style.top = '415px';
    const colors = [baseColor].concat(levelColors);
    return new Chart(canvas, {
        type: 'bar',
        data: {
            labels: ['TM'],
            datasets: colorbarSteps.map((v, i) => ({ data: [v], backgroundColor: colors[i], barPercentage: 1, categoryPercentage: 1, borderWidth: 0 }))
        },
        options: {
            responsive: false,
            animation: false,
            events: [],
            layout: { padding: { top: 4, bottom: 9 } },
            plugins: { legend: { display: false }, tooltip: { enabled: false } },
            scales: {
                x: { stacked: true, display: false },
                y: {
                    stacked: true, position: 'right', min: 0, max: 250,
                    grid: { display: false, drawTicks: false }, border: { display: false },
                    afterBuildTicks: a => { a.ticks = colorbarTicks.map(v => ({ value: v })); },
                    afterFit: a => { a.width = 56; clearAxisPadding(a); },
                    ticks: { autoSkip: false, padding: 4, color: '#333', font: tickFont, callback: v => (v === 240 ? '240 TM' : v) }
                }
            }
        }
    });
}

makeMap('mapA', { left: 39.5, right: 548, top: -19.6, bottom: 389, lonStart: -84.75, latTop: 7.78, axisW: 33, axisH: 18, xPad: 3, degree: '°', spots: spotsA, broad: broadA, dark: darkA, stations: stationsA, outline: outlineAB, spread: 7.5, joinUp: true, xTitle: false, yTitle: true });
makeMap('mapB', { left: 569, right: 1075, top: -19.6, bottom: 389, lonStart: -84.75, latTop: 7.78, axisW: 18, axisH: 18, xPad: 3, degree: '°', spots: spotsB, broad: broadB, dark: darkB, stations: stationsB, outline: outlineAB, spread: 7.5, joinUp: true, xTitle: false, yTitle: false });
makeMap('mapC', { left: 283, right: 842, top: 380, bottom: 795, lonStart: -84.75, latTop: 7.88, axisW: 29.5, axisH: 45, xPad: 5, degree: '', spots: spotsC, broad: broadC, dark: darkC, stations: stationsC, outline: outlineC, spread: 9, joinUp: false, xTitle: true, yTitle: true, showKm: true });

makeInset('insetA', { left: 99, right: 195.6, top: 24, bottom: 137, lon: [-150, -19.5], lat: [-68.9, 83.8], coastColor: '#666', frame: true });
makeInset('insetB', { left: 617.6, right: 708, top: 20, bottom: 135, lon: [-150, -26], lat: [-68, 89], coastColor: '#999', frame: false });
makeInset('insetC', { left: 343, right: 443.7, top: 426, bottom: 544, lon: [-150, -20], lat: [-69.7, 82.6], coastColor: '#666', frame: true });

makeColorbar();
</script>
</body>
</html>
